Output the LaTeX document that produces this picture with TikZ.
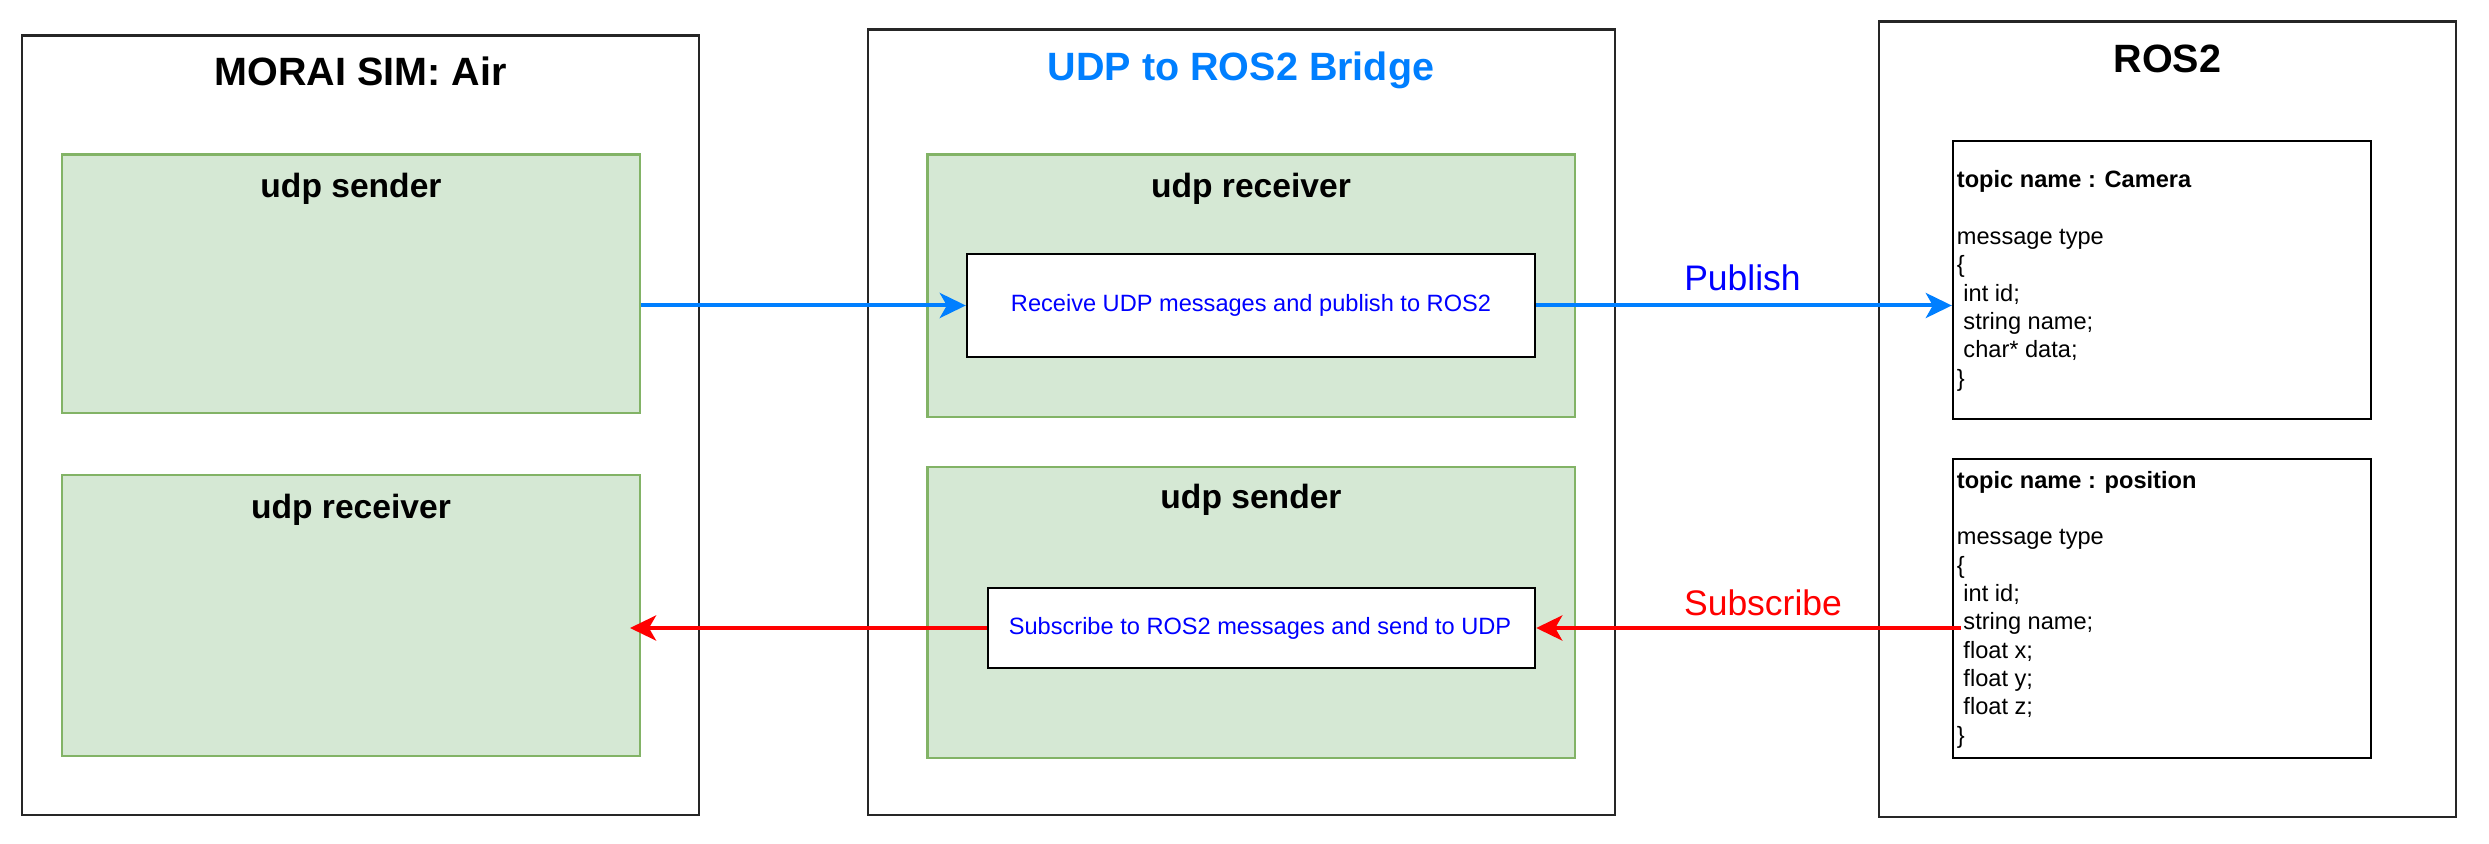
\documentclass[tikz,border=0pt]{standalone}
\usepackage{fontspec}
\setmainfont{Liberation Sans}
\usetikzlibrary{arrows.meta,fit}
\definecolor{gfill}{HTML}{D5E8D4}
\definecolor{gline}{HTML}{82B366}
\definecolor{ablue}{HTML}{007FFF}
\definecolor{tblue}{HTML}{0000FF}
\definecolor{ared}{HTML}{FF0000}
\newcommand{\myind}{\hspace*{0.278em}}
\tikzset{
  outerbox/.style={draw=black!85, line width=1.1pt, inner sep=0pt, fill=white},
  greenbox/.style={draw=gline, fill=gfill, line width=1.1pt, inner sep=0pt},
  innerbox/.style={draw=black, fill=white, line width=1.2pt, inner sep=0pt},
  ttl/.style={font=\fontsize{19.75pt}{23pt}\selectfont\bfseries, anchor=base, inner sep=0pt},
  subttl/.style={font=\fontsize{16.8pt}{20pt}\selectfont\bfseries, anchor=base, inner sep=0pt},
  smalltxt/.style={font=\fontsize{11.8pt}{14.15pt}\selectfont, inner sep=0pt},
  lbl/.style={font=\fontsize{17.75pt}{21pt}\selectfont, anchor=base, inner sep=0pt},
  bluearrow/.style={draw=ablue, line width=2pt, -{Stealth[length=13pt,width=12.5pt,inset=3.5pt]}},
  redarrow/.style={draw=ared, line width=2pt, -{Stealth[length=13pt,width=12.5pt,inset=3.5pt]}}
}
\begin{document}
\begin{tikzpicture}[x=0.5pt,y=-0.5pt]
\useasboundingbox (0,0) rectangle (2489,844);
% outer containers
\node[outerbox, fit={(22,35.5) (699,815)}] (morai) {};
\node[outerbox, fit={(868,29.6) (1615,815)}] (bridge) {};
\node[outerbox, fit={(1879,21.5) (2456,817)}] (ros) {};
% green boxes
\node[greenbox, fit={(62,154.5) (640,413)}] (lsend) {};
\node[greenbox, fit={(62,475) (640,756)}] (lrecv) {};
\node[greenbox, fit={(927.5,154.5) (1575,417)}] (mrecv) {};
\node[greenbox, fit={(927.5,467) (1575,758)}] (msend) {};
% inner white boxes
\node[innerbox, fit={(967,254) (1535,357)}] (recvbox) {};
\node[innerbox, fit={(988,588) (1535,668)}] (subbox) {};
\node[innerbox, fit={(1953,141) (2371,419)}] (cam) {};
\node[innerbox, fit={(1953,459) (2371,758)}] (pos) {};
% titles
\node[ttl] (moraititle) at (360.5,86) {MORAI SIM: Air};
\node[ttl, text=ablue] (bridgetitle) at (1241,81) {UDP to ROS2 Bridge};
\node[ttl] (rostitle) at (2167.5,72.7) {ROS2};
\node[subttl] (lsendt) at (351,198) {udp sender};
\node[subttl] (lrecvt) at (351,518) {udp receiver};
\node[subttl] (mrecvt) at (1251,198) {udp receiver};
\node[subttl] (msendt) at (1251,508.6) {udp sender};
% inner texts
\node[smalltxt, text=tblue] (recvtxt) at (1251,305.5) {Receive UDP messages and publish to ROS2};
\node[smalltxt, text=tblue] (subtxt) at (1260,628) {Subscribe to ROS2 messages and send to UDP};
\node[smalltxt, anchor=base west] (camtxt) at (1956.5,188) {\begin{tabular}[t]{@{}l@{}}
\textbf{topic name : Camera}\\
\\
message type\\
\{\\
\myind int id;\\
\myind string name;\\
\myind char* data;\\
\}
\end{tabular}};
\node[smalltxt, anchor=base west] (postxt) at (1956.5,488.3) {\begin{tabular}[t]{@{}l@{}}
\textbf{topic name : position}\\
\\
message type\\
\{\\
\myind int id;\\
\myind string name;\\
\myind float x;\\
\myind float y;\\
\myind float z;\\
\}
\end{tabular}};
% labels
\node[lbl, text=tblue] (publbl) at (1742.5,290.6) {Publish};
\node[lbl, text=ared] (sublbl) at (1763,615) {Subscribe};
% connectors
\draw[bluearrow] (lsend.east |- recvbox.west) -- (recvbox.west);
\draw[bluearrow] (recvbox.east) -- (cam.west |- recvbox.east);
\coordinate (subsrc) at (1961,628);
\coordinate (lrecvend) at (630,628);
\draw[redarrow] (subsrc) -- (subbox.east);
\draw[redarrow] (subbox.west) -- (lrecvend);
\end{tikzpicture}
\end{document}
